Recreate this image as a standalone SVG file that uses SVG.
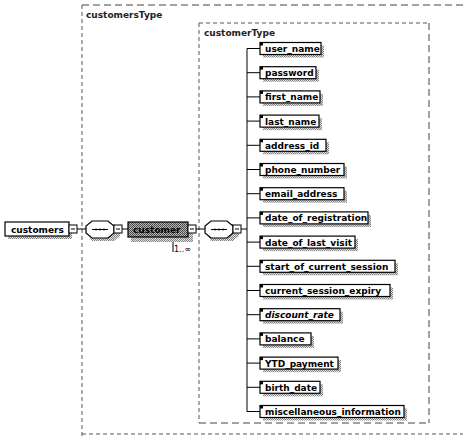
<svg xmlns="http://www.w3.org/2000/svg" width="463" height="437" viewBox="0 0 463 437">
<defs>
<pattern id="stip" width="2" height="2" patternUnits="userSpaceOnUse"><rect width="2" height="2" fill="#e4e4e4"/><rect width="1" height="1" fill="#808080"/><rect x="1" y="1" width="1" height="1" fill="#808080"/></pattern>
<pattern id="dark" width="2" height="2" patternUnits="userSpaceOnUse"><rect width="2" height="2" fill="#b8b8b8"/><rect width="1" height="1" fill="#404040"/><rect x="1" y="1" width="1" height="1" fill="#505050"/></pattern>
</defs>
<style>
text{font-family:"DejaVu Sans","Liberation Sans",sans-serif;font-weight:bold;font-size:9px;fill:#000}
.lbl{font-size:9px;fill:#222}
.box{fill:#fff;stroke:#000;stroke-width:1.2}
.sh{fill:url(#stip)}
.ln{stroke:#000;stroke-width:1;fill:none}
.dash{stroke:#444;stroke-width:1;fill:none;stroke-dasharray:7 4}
.dot{stroke:#555;stroke-width:1;fill:none;stroke-dasharray:4 3}
.sq{fill:#fff;stroke:#000;stroke-width:1}
.ic{fill:#000}
</style>
<g id="customersType">
<path class="dash" d="M82,5 H463"/>
<path class="dot" d="M82,5 V437"/>
<path class="dot" d="M82,434 H463"/>
<text class="lbl" x="86" y="18">customersType</text>
</g>
<g id="customerType">
<path class="dot" d="M199,23 H429"/>
<path class="dash" d="M429,23 V423"/>
<path class="dash" d="M199,423 H429"/>
<path class="dot" d="M199,23 V423"/>
<text class="lbl" x="204" y="36">customerType</text>
</g>
<g id="connectors">
<path class="ln" d="M77,229 H86"/>
<path class="ln" d="M122,229 H128"/>
<path class="ln" d="M196,229 H205"/>
<path class="ln" d="M241,229 H247"/>
<path class="ln" d="M247,48.5 V411.5"/>
<path class="ln" d="M247,48.5 H260 M247,72.7 H260 M247,96.9 H260 M247,121.1 H260 M247,145.3 H260 M247,169.5 H260 M247,193.7 H260 M247,217.9 H260 M247,242.1 H260 M247,266.3 H260 M247,290.5 H260 M247,314.7 H260 M247,338.9 H260 M247,363.1 H260 M247,387.3 H260 M247,411.5 H260"/>
</g>
<g id="customers">
<rect class="sh" x="8" y="225" width="64" height="14"/>
<rect class="box" x="5" y="222" width="64" height="14"/>
<text x="11" y="232.5">customers</text>
<rect class="sq" x="69" y="225" width="8" height="8"/>
<path class="ln" d="M71,229 H75"/>
</g>
<g id="seq1">
<path class="sh" d="M92,224 H114 L120,229 V236 L114,241 H92 L89,236 V229 Z"/>
<path class="box" d="M92,221 H108 L114,226 V233 L108,238 H92 L86,233 V226 Z"/>
<path class="ln" d="M92,229.5 H108"/>
<circle cx="96" cy="229.5" r="0.9"/><circle cx="100" cy="229.5" r="0.9"/><circle cx="104" cy="229.5" r="0.9"/>
<rect class="sq" x="114" y="225" width="8" height="8"/>
<path class="ln" d="M116,229 H120"/>
</g>
<g id="customer">
<rect class="sh" x="131" y="226" width="62" height="16"/>
<rect x="128" y="222" width="60" height="15" fill="url(#dark)" stroke="#000" stroke-width="1.2"/>
<text x="133" y="232.5">customer</text>
<rect class="sq" x="188" y="225" width="8" height="8"/>
<path class="ln" d="M190,229 H194"/>
<path class="ln" d="M173,242 V252"/>
<text x="174" y="252" style="font-size:8px;font-weight:normal">1..∞</text>
</g>
<g id="seq2">
<path class="sh" d="M211,224 H233 L239,229 V236 L233,241 H211 L208,236 V229 Z"/>
<path class="box" d="M211,221 H227 L233,226 V233 L227,238 H211 L205,233 V226 Z"/>
<path class="ln" d="M211,229.5 H227"/>
<circle cx="215" cy="229.5" r="0.9"/><circle cx="219" cy="229.5" r="0.9"/><circle cx="223" cy="229.5" r="0.9"/>
<rect class="sq" x="233" y="225" width="8" height="8"/>
<path class="ln" d="M235,229 H239"/>
</g>
<g id="user_name"><rect class="sh" x="263" y="45.5" width="61" height="12"/><rect class="box" x="260" y="42.5" width="61" height="12"/><rect class="ic" x="260" y="42.5" width="3" height="3"/><text x="265" y="52">user_name</text></g>
<g id="password"><rect class="sh" x="263" y="69.7" width="56" height="12"/><rect class="box" x="260" y="66.7" width="56" height="12"/><rect class="ic" x="260" y="66.7" width="3" height="3"/><text x="265" y="76.2">password</text></g>
<g id="first_name"><rect class="sh" x="263" y="93.9" width="60" height="12"/><rect class="box" x="260" y="90.9" width="60" height="12"/><rect class="ic" x="260" y="90.9" width="3" height="3"/><text x="265" y="100.4">first_name</text></g>
<g id="last_name"><rect class="sh" x="263" y="118.1" width="59" height="12"/><rect class="box" x="260" y="115.1" width="59" height="12"/><rect class="ic" x="260" y="115.1" width="3" height="3"/><text x="265" y="124.6">last_name</text></g>
<g id="address_id"><rect class="sh" x="263" y="142.3" width="66" height="12"/><rect class="box" x="260" y="139.3" width="66" height="12"/><rect class="ic" x="260" y="139.3" width="3" height="3"/><text x="265" y="148.8">address_id</text></g>
<g id="phone_number"><rect class="sh" x="263" y="166.5" width="84" height="12"/><rect class="box" x="260" y="163.5" width="84" height="12"/><rect class="ic" x="260" y="163.5" width="3" height="3"/><text x="265" y="173">phone_number</text></g>
<g id="email_address"><rect class="sh" x="263" y="190.7" width="84" height="12"/><rect class="box" x="260" y="187.7" width="84" height="12"/><rect class="ic" x="260" y="187.7" width="3" height="3"/><text x="265" y="197.2">email_address</text></g>
<g id="date_of_registration"><rect class="sh" x="263" y="214.9" width="108" height="12"/><rect class="box" x="260" y="211.9" width="108" height="12"/><rect class="ic" x="260" y="211.9" width="3" height="3"/><text x="265" y="221.4">date_of_registration</text></g>
<g id="date_of_last_visit"><rect class="sh" x="263" y="239.1" width="95" height="12"/><rect class="box" x="260" y="236.1" width="95" height="12"/><rect class="ic" x="260" y="236.1" width="3" height="3"/><text x="265" y="245.6">date_of_last_visit</text></g>
<g id="start_of_current_session"><rect class="sh" x="263" y="263.3" width="135" height="12"/><rect class="box" x="260" y="260.3" width="135" height="12"/><rect class="ic" x="260" y="260.3" width="3" height="3"/><text x="265" y="269.8">start_of_current_session</text></g>
<g id="current_session_expiry"><rect class="sh" x="263" y="287.5" width="130" height="12"/><rect class="box" x="260" y="284.5" width="130" height="12"/><rect class="ic" x="260" y="284.5" width="3" height="3"/><text x="265" y="294">current_session_expiry</text></g>
<g id="discount_rate"><rect class="sh" x="263" y="311.7" width="80" height="12"/><rect class="box" x="260" y="308.7" width="80" height="12"/><rect class="ic" x="260" y="308.7" width="3" height="3"/><text x="265" y="318.2" font-style="italic">discount_rate</text></g>
<g id="balance"><rect class="sh" x="263" y="335.9" width="51" height="12"/><rect class="box" x="260" y="332.9" width="51" height="12"/><rect class="ic" x="260" y="332.9" width="3" height="3"/><text x="265" y="342.4">balance</text></g>
<g id="YTD_payment"><rect class="sh" x="263" y="360.1" width="78" height="12"/><rect class="box" x="260" y="357.1" width="78" height="12"/><rect class="ic" x="260" y="357.1" width="3" height="3"/><text x="265" y="366.6">YTD_payment</text></g>
<g id="birth_date"><rect class="sh" x="263" y="384.3" width="60" height="12"/><rect class="box" x="260" y="381.3" width="60" height="12"/><rect class="ic" x="260" y="381.3" width="3" height="3"/><text x="265" y="390.8">birth_date</text></g>
<g id="miscellaneous_information"><rect class="sh" x="263" y="408.5" width="144" height="12"/><rect class="box" x="260" y="405.5" width="144" height="12"/><rect class="ic" x="260" y="405.5" width="3" height="3"/><text x="265" y="415">miscellaneous_information</text></g>
</svg>
